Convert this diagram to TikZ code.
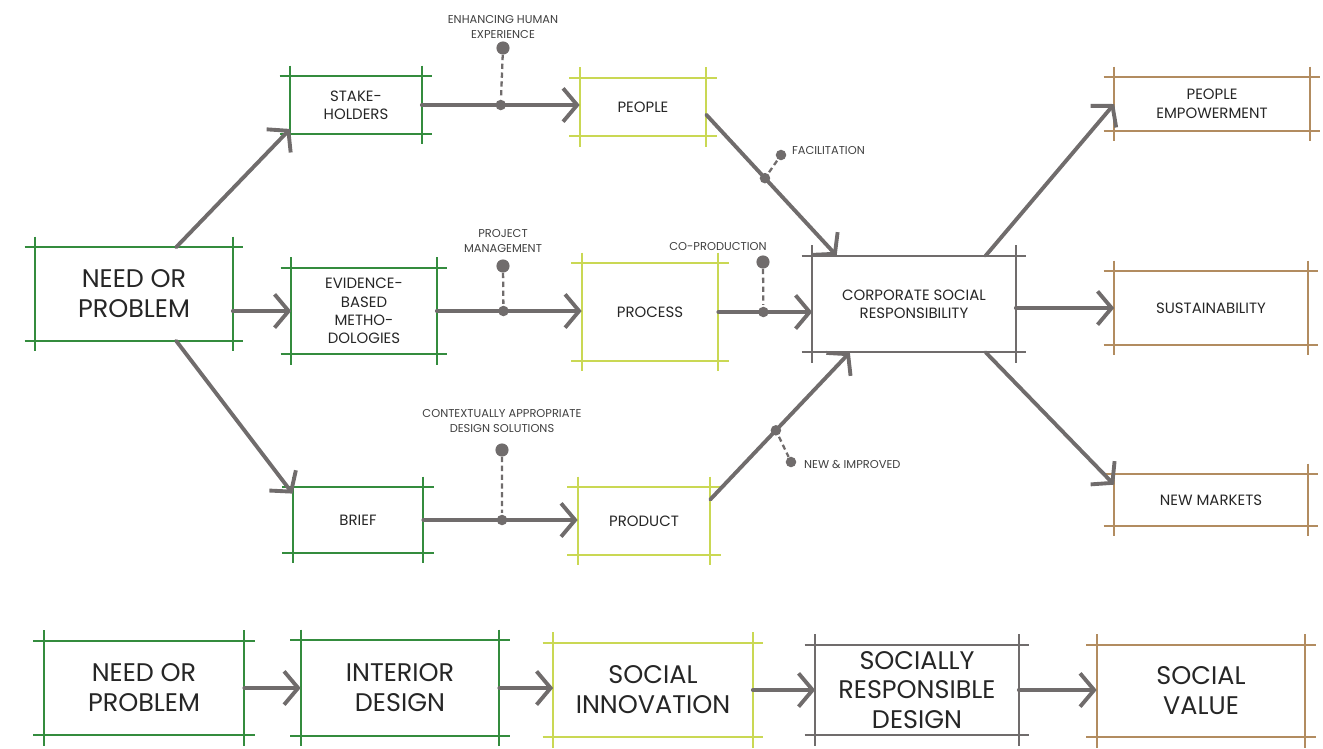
\documentclass[tikz,border=0pt]{standalone}
\usepackage{fontspec}
\setmainfont{Poppins}
\usepackage{tikz}
\usetikzlibrary{arrows.meta}

\definecolor{idgreen}{RGB}{52,140,62}
\definecolor{idlime}{RGB}{202,216,84}
\definecolor{idgray}{RGB}{112,108,108}
\definecolor{idtan}{RGB}{178,140,96}

\begin{document}
\begin{tikzpicture}[%
		x=0.02cm, y=-0.02cm,
		box/.style={align=center, inner sep=0pt, text=black!85},
		small box/.style={box, font=\fontsize{8.5}{10.5}\selectfont},
		big box/.style={box, font=\fontsize{14.5}{17}\selectfont},
		flow/.style={draw=idgray, line width=2.2pt, line cap=round,
			-{Straight Barb[length=8pt,width=19pt]}},
		hint/.style={draw=idgray, line width=1.3pt, dash pattern=on 3pt off 2pt},
		dot/.style={circle, fill=idgray, inner sep=0pt, minimum size=6pt},
		bigdot/.style={circle, fill=idgray, inner sep=0pt, minimum size=7.5pt},
		note/.style={font=\fontsize{6.5}{8}\selectfont, text=black!75, align=center, inner sep=1pt}
		]

		\useasboundingbox (0,0) rectangle (1323,748);

		%% Kaesten oben
		\node[big box, minimum width=3.94cm, minimum height=1.86cm] (need) at (134,294) {NEED OR\\PROBLEM};
		\node[small box, minimum width=2.62cm, minimum height=1.14cm] (stake) at (356,105) {STAKE-\\HOLDERS};
		\node[small box, minimum width=2.9cm, minimum height=1.72cm] (evid) at (364,311) {EVIDENCE-\\BASED\\METHO-\\DOLOGIES};
		\node[small box, minimum width=2.6cm, minimum height=1.3cm] (brief) at (358,520) {BRIEF};
		\node[small box, minimum width=2.52cm, minimum height=1.16cm] (people) at (643,107) {PEOPLE};
		\node[small box, minimum width=2.72cm, minimum height=1.94cm] (process) at (650,312) {PROCESS};
		\node[small box, minimum width=2.64cm, minimum height=1.34cm] (product) at (644,521) {PRODUCT};
		\node[small box, minimum width=4.06cm, minimum height=1.92cm] (csr) at (914,304) {CORPORATE SOCIAL\\RESPONSIBILITY};
		\node[small box, minimum width=3.9cm, minimum height=1.06cm] (empower) at (1212,104) {PEOPLE\\EMPOWERMENT};
		\node[small box, minimum width=3.86cm, minimum height=1.46cm] (sustain) at (1211,308) {SUSTAINABILITY};
		\node[small box, minimum width=3.86cm, minimum height=1.02cm] (markets) at (1211,500) {NEW MARKETS};

		%% Kaesten unten
		\node[big box, minimum width=4.0cm, minimum height=1.88cm] (bneed) at (144,688) {NEED OR\\PROBLEM};
		\node[big box, minimum width=3.96cm, minimum height=1.9cm] (binterior) at (400,688) {INTERIOR\\DESIGN};
		\node[big box, minimum width=3.98cm, minimum height=1.88cm] (binnov) at (653,690) {SOCIAL\\INNOVATION};
		\node[big box, minimum width=4.06cm, minimum height=1.8cm] (bsrd) at (917,690) {SOCIALLY\\RESPONSIBLE\\DESIGN};
		\node[big box, minimum width=4.16cm, minimum height=1.84cm] (bvalue) at (1201,691) {SOCIAL\\VALUE};

		%% Skizzenrahmen
		\foreach \n/\c in {need/idgreen, stake/idgreen, evid/idgreen, brief/idgreen,
			people/idlime, process/idlime, product/idlime, csr/idgray,
			empower/idtan, sustain/idtan, markets/idtan,
			bneed/idgreen, binterior/idgreen, binnov/idlime, bsrd/idgray, bvalue/idtan} {
			\draw[\c, line width=1.3pt]
				([xshift=-6pt]\n.north west) -- ([xshift=6pt]\n.north east)
				([xshift=-6pt]\n.south west) -- ([xshift=6pt]\n.south east)
				([yshift=6pt]\n.north west) -- ([yshift=-6pt]\n.south west)
				([yshift=6pt]\n.north east) -- ([yshift=-6pt]\n.south east);
		}

		%% Pfeile links
		\draw[flow] (need.48) -- (stake.200);
		\draw[flow] (need.east |- evid.west) -- (evid.west);
		\draw[flow] (need.-48) -- (brief.158);

		%% Mitte mit Punkten
		\draw[flow] (stake.east) -- node[pos=0.5, dot] (d1) {} (stake.east -| people.west);
		\node[bigdot] (d1t) at (503,48) {};
		\draw[hint] (d1t) -- (d1);
		\node[note] (n1) at (503,27) {ENHANCING HUMAN\\EXPERIENCE};

		\draw[flow] (evid.east) -- node[pos=0.46, dot] (d2) {} (evid.east -| process.west);
		\node[bigdot] (d2t) at (503,266) {};
		\draw[hint] (d2t) -- (d2);
		\node[note] (n2) at (503,241) {PROJECT\\MANAGEMENT};

		\draw[flow] (brief.east) -- node[pos=0.51, dot] (d3) {} (brief.east -| product.west);
		\node[bigdot] (d3t) at (502,450) {};
		\draw[hint] (d3t) -- (d3);
		\node[note] (n3) at (502,421) {CONTEXTUALLY APPROPRIATE\\DESIGN SOLUTIONS};

		%% nach CSR
		\draw[flow] (people.-7) -- node[pos=0.45, dot] (d4) {} (csr.148);
		\node[dot] (d4t) at (781,155) {};
		\draw[hint] (d4) -- (d4t);
		\node[note, anchor=west] (n4) at (790,151) {FACILITATION};

		\draw[flow] (process.east) -- node[pos=0.48, dot] (d5) {} (process.east -| csr.west);
		\node[bigdot] (d5t) at (763,262) {};
		\draw[hint] (d5t) -- (d5);
		\node[note] (n5) at (718,247) {CO-PRODUCTION};

		\draw[flow] (product.18) -- node[pos=0.47, dot] (d6) {} (csr.217);
		\node[dot] (d6t) at (791,462) {};
		\draw[hint] (d6) -- (d6t);
		\node[note, anchor=west] (n6) at (802,464) {NEW \& IMPROVED};

		%% rechts
		\draw[flow] (csr.34) -- (empower.west);
		\draw[flow] (csr.east |- sustain.west) -- (sustain.west);
		\draw[flow] (csr.-34) -- (markets.171);

		%% untere Reihe
		\draw[flow] (bneed.east) -- (bneed.east -| binterior.west);
		\draw[flow] (binterior.east) -- (binterior.east -| binnov.west);
		\draw[flow] (binnov.east) -- (binnov.east -| bsrd.west);
		\draw[flow] (bsrd.east) -- (bsrd.east -| bvalue.west);

	\end{tikzpicture}
\end{document}
